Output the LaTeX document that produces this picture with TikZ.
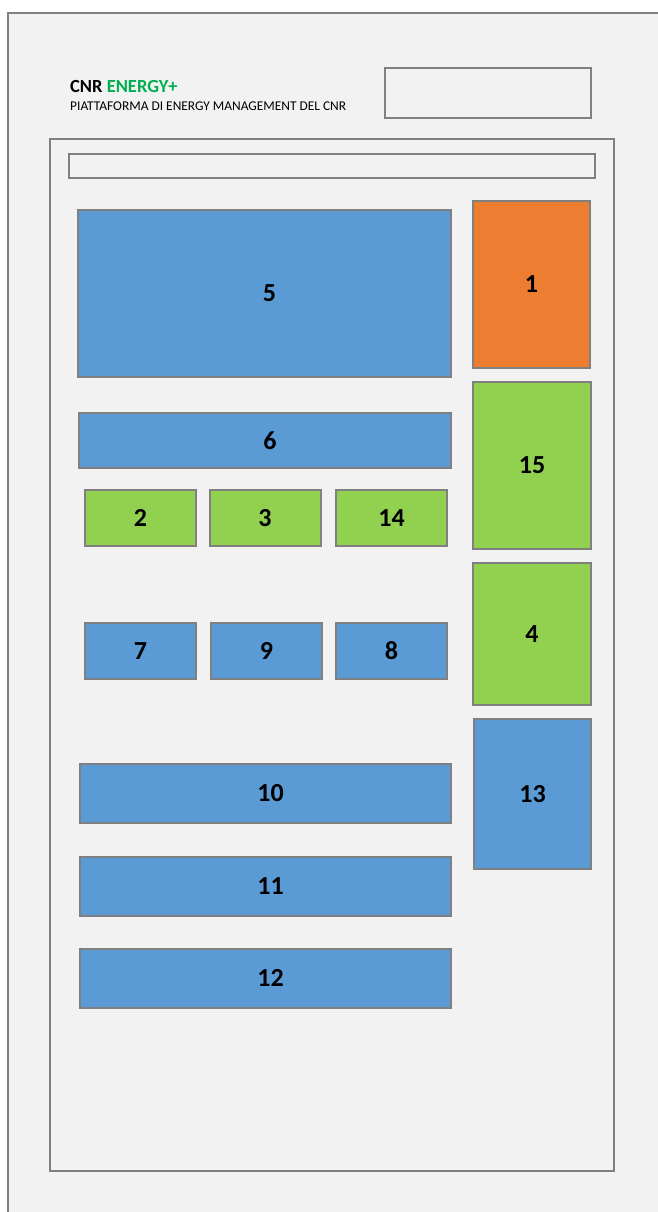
\documentclass[tikz,border=0pt]{standalone}
\usepackage{fontspec}
\setmainfont{Carlito}
\usepackage{xcolor}
\definecolor{pagegray}{HTML}{F2F2F2}
\definecolor{framegray}{HTML}{808080}
\definecolor{tileblue}{HTML}{5B9BD5}
\definecolor{tileorange}{HTML}{ED7D31}
\definecolor{tilegreen}{HTML}{92D050}
\definecolor{brandgreen}{HTML}{00B050}
\tikzset{
  panel/.style={draw=framegray, line width=2pt, inner sep=0pt},
  tile/.style={panel, font=\bfseries\fontsize{26}{26}\selectfont},
  bluetile/.style={tile, fill=tileblue},
  greentile/.style={tile, fill=tilegreen},
  orangetile/.style={tile, fill=tileorange},
  widetile/.style={bluetile, execute at begin node={\hspace*{10pt}}}
}

\begin{document}
\begin{tikzpicture}[x=1pt, y=-1pt]
    \useasboundingbox[fill=white] (0,0) rectangle (657,1212);
    % page frames
    \draw[panel, fill=pagegray] (7.5,12.7) rectangle (690,1250);
    \node[panel, minimum width=564pt, minimum height=1032pt] (body) at (332,655) {};
    \node[panel, minimum width=206pt, minimum height=50pt] (logo) at (488,93) {};
    \node[panel, minimum width=526pt, minimum height=24pt] (search) at (332,166) {};
    % header text
    \node[anchor=base west, inner sep=0pt, font=\bfseries\fontsize{18.5}{18.5}\selectfont] (title) at (70,93)
      {CNR \textcolor{brandgreen}{ENERGY+}};
    \node[anchor=base west, inner sep=0pt, font=\fontsize{13.4}{13.4}\selectfont] (subtitle) at (70,111)
      {PIATTAFORMA DI ENERGY MANAGEMENT DEL CNR};
    % main column
    \node[widetile, minimum width=373pt, minimum height=167pt] (t5) at (264.5,293.5) {5};
    \node[widetile, minimum width=372pt, minimum height=55pt] (t6) at (265,440.5) {6};
    \foreach \n/\x in {2/140.5, 3/265, 14/391.5}
      \node[greentile, minimum width=111pt, minimum height=56pt] (t\n) at (\x,518) {\n};
    \foreach \n/\x in {7/140.5, 9/266.5, 8/391.5}
      \node[bluetile, minimum width=111pt, minimum height=56pt] (t\n) at (\x,651) {\n};
    \foreach \n/\y in {10/793.5, 11/886.5, 12/978}
      \node[widetile, minimum width=371pt, minimum height=59pt] (t\n) at (265.5,\y) {\n};
    % side column
    \node[orangetile, minimum width=117pt, minimum height=167pt] (t1) at (531.5,284.5) {1};
    \node[greentile, minimum width=118pt, minimum height=167pt] (t15) at (532,465.5) {15};
    \node[greentile, minimum width=118pt, minimum height=142pt] (t4) at (532,634) {4};
    \node[bluetile, minimum width=117pt, minimum height=150pt] (t13) at (532.5,794) {13};
\end{tikzpicture}
\end{document}
